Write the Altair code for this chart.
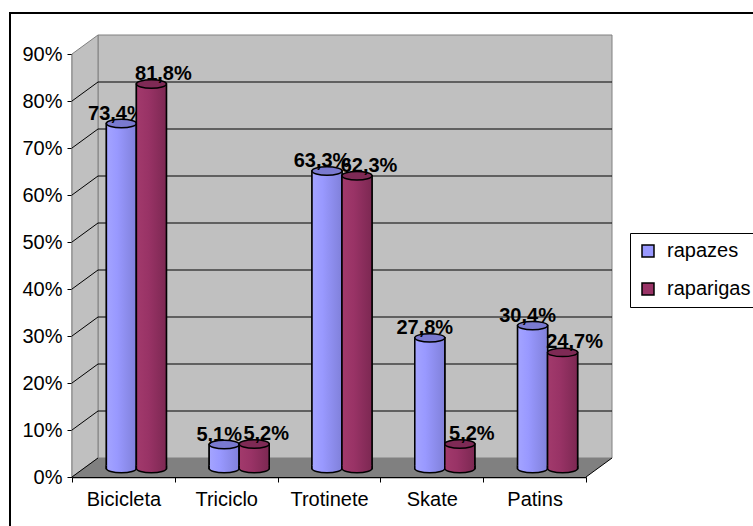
import altair as alt
import pandas as pd

# ---- data -------------------------------------------------------------
categorias = ["Bicicleta", "Triciclo", "Trotinete", "Skate", "Patins"]
series = ["rapazes", "raparigas"]
rapazes = [0.734, 0.051, 0.633, 0.278, 0.304]
raparigas = [0.818, 0.052, 0.623, 0.052, 0.247]
y_ticks = [0.0, 0.1, 0.2, 0.3, 0.4, 0.5, 0.6, 0.7, 0.8, 0.9]
cores = ["#9999FF", "#993366"]

# ---- geometry of the 3D box (pixels) ---------------------------------
W, H = 514, 423          # front plane
DX, DY = 26, 19          # depth of the box
BAR_W = 30
FONT = "Liberation Sans"


def rotulo(v):
    return f"{v * 100:.1f}%".replace(".", ",")


df = pd.DataFrame({
    "categoria": categorias * 2,
    "serie": [s for s in series for _ in categorias],
    "valor": rapazes + raparigas,
})
df["rotulo"] = df["valor"].map(rotulo)
base_df = df.assign(valor=0.0)

x_enc = alt.X(
    "categoria:N", sort=categorias,
    scale=alt.Scale(domain=categorias, paddingInner=0, paddingOuter=0),
    axis=alt.Axis(orient="bottom", title=None, labelAngle=0, tickBand="extent",
                  labelFontSize=20, labelFont=FONT, labelColor="black",
                  labelPadding=7, tickSize=5, tickColor="black",
                  domainColor="black", domainWidth=1.5),
)
y_enc = alt.Y(
    "valor:Q",
    scale=alt.Scale(domain=[0, 0.9], nice=False, zero=True),
    axis=alt.Axis(orient="left", title=None, values=y_ticks, format=".0%",
                  grid=False, labelFontSize=20, labelFont=FONT,
                  labelColor="black", labelPadding=5, tickSize=5,
                  tickColor="black", domainColor="black", domainWidth=1.5),
)


def grad(stops):
    return alt.LinearGradient(
        gradient="linear", x1=0, x2=1, y1=0, y2=0,
        stops=[alt.GradientStop(offset=o, color=c) for o, c in stops],
    )


corpo = {
    "rapazes": grad([(0, "#A4A4FF"), (0.35, "#9999FF"), (1, "#8080DA")]),
    "raparigas": grad([(0, "#A23A6C"), (0.4, "#993366"), (1, "#7C2852")]),
}
topo = {"rapazes": "#7A7AD0", "raparigas": "#7E2A55"}
desvio_barra = {"rapazes": -BAR_W / 2 + DX / 2, "raparigas": BAR_W / 2 + DX / 2}
desvio_rotulo = {"rapazes": -7, "raparigas": 40}

ELIPSE = "M -1 0 A 1 0.28 0 0 0 1 0 A 1 0.28 0 0 0 -1 0 Z"
MEIA_ELIPSE = "M -1 -0.2 L -1 0 A 1 0.28 0 0 0 1 0 L 1 -0.2"
Y_OFF = -DY / 2 + 1

# ---- box decoration (walls and floor) ------------------------------
px = alt.Scale(domain=[0, W], nice=False, zero=False)
py = alt.Scale(domain=[0, H], nice=False, zero=False, reverse=True)
um = pd.DataFrame({"k": [0]})

parede = alt.Chart(um).mark_rect(fill="#C0C0C0", stroke="#808080", strokeWidth=1).encode(
    x=alt.value(DX), x2=alt.value(W + DX), y=alt.value(-DY), y2=alt.value(H - DY))

lateral = alt.Chart(pd.DataFrame({
    "px": [0, DX], "py": [0, -DY], "py2": [H, H - DY]})).mark_area(
    fill="#C0C0C0", stroke="#808080", strokeWidth=1).encode(
    x=alt.X("px:Q", scale=px, axis=None),
    y=alt.Y("py:Q", scale=py, axis=None), y2="py2:Q")

chao = alt.Chart(pd.DataFrame({
    "py": [H, H - DY], "px": [0, DX], "px2": [W, W + DX]})).mark_area(
    orient="horizontal", fill="#808080").encode(
    y=alt.Y("py:Q", scale=py, axis=None),
    x=alt.X("px:Q", scale=px, axis=None), x2="px2:Q")

aresta = alt.Chart(um).mark_rule(color="black", strokeWidth=1).encode(
    x=alt.value(W), x2=alt.value(W + DX), y=alt.value(H), y2=alt.value(H - DY))

moldura = alt.Chart(um).mark_rect(fill=None, stroke="black", strokeWidth=2).encode(
    x=alt.value(-62), x2=alt.value(W + 200), y=alt.value(-41), y2=alt.value(H + 100))

decor = alt.layer(parede, lateral, chao, aresta, moldura)

# ---- grid on the back and side walls --------------------------------
grelha_df = pd.DataFrame({"valor": y_ticks[1:-1]})
grelha = alt.Chart(grelha_df).mark_rule(color="black", strokeWidth=1, yOffset=-DY).encode(
    y=y_enc, x=alt.value(DX), x2=alt.value(W + DX))
diagonais = alt.Chart(pd.DataFrame({"valor": y_ticks[:-1]})).mark_rule(
    color="black", strokeWidth=1, y2Offset=-DY).encode(
    y=y_enc, y2="valor:Q", x=alt.value(0), x2=alt.value(DX))

camadas = [grelha, diagonais]

# ---- cylinders -------------------------------------------------------
for s in series:
    d = df[df["serie"] == s]
    b = base_df[base_df["serie"] == s]
    off = desvio_barra[s]
    solida = alt.Chart(d).mark_bar(
        width=BAR_W, xOffset=off, yOffset=Y_OFF, stroke="black", strokeWidth=1.5
    ).encode(
        x=x_enc, y=y_enc,
        color=alt.Color("serie:N", scale=alt.Scale(domain=series, range=cores),
                        legend=alt.Legend(title=None, orient="none", legendX=558, legendY=179,
                                          strokeColor="black", fillColor="white",
                                          padding=8, rowPadding=18, labelOffset=9,
                                          labelFontSize=20, labelFont=FONT, labelColor="black",
                                          symbolType="square", symbolSize=144,
                                          symbolStrokeColor="black", symbolStrokeWidth=1.5,
                                          labelLimit=200)),
    )
    corpo_cil = alt.Chart(d).mark_bar(
        width=BAR_W, xOffset=off, yOffset=Y_OFF, fill=corpo[s], stroke="black", strokeWidth=1.5
    ).encode(x=x_enc, y=y_enc)
    fundo = alt.Chart(b).mark_point(
        shape=MEIA_ELIPSE, size=BAR_W ** 2, filled=True, fill=corpo[s], opacity=1,
        stroke="black", strokeWidth=1.5, xOffset=off, yOffset=Y_OFF
    ).encode(x=x_enc, y=y_enc)
    tampa = alt.Chart(d).mark_point(
        shape=ELIPSE, size=BAR_W ** 2, filled=True, fill=topo[s], opacity=1,
        stroke="black", strokeWidth=1.5, xOffset=off, yOffset=Y_OFF
    ).encode(x=x_enc, y=y_enc)
    texto = alt.Chart(d).mark_text(
        font=FONT, fontSize=20, fontWeight="bold", color="black",
        baseline="alphabetic", align="center",
        xOffset=desvio_rotulo[s], yOffset=Y_OFF, dy=-4
    ).encode(x=x_enc, y=y_enc, text="rotulo:N")
    camadas += [solida, corpo_cil, fundo, tampa]
    camadas.append(texto)

principal = alt.layer(*camadas)

chart = alt.layer(decor, principal).resolve_scale(
    x="independent", y="independent"
).properties(
    width=W, height=H,
    autosize=alt.AutoSizeParams(type="none"),
    padding={"left": 72, "top": 54, "right": 753 - 72 - W, "bottom": 526 - 54 - H},
    background="white",
).configure_view(stroke=None).configure(font=FONT)

chart.save("out.html", embed_options={"renderer": "svg", "actions": False})
